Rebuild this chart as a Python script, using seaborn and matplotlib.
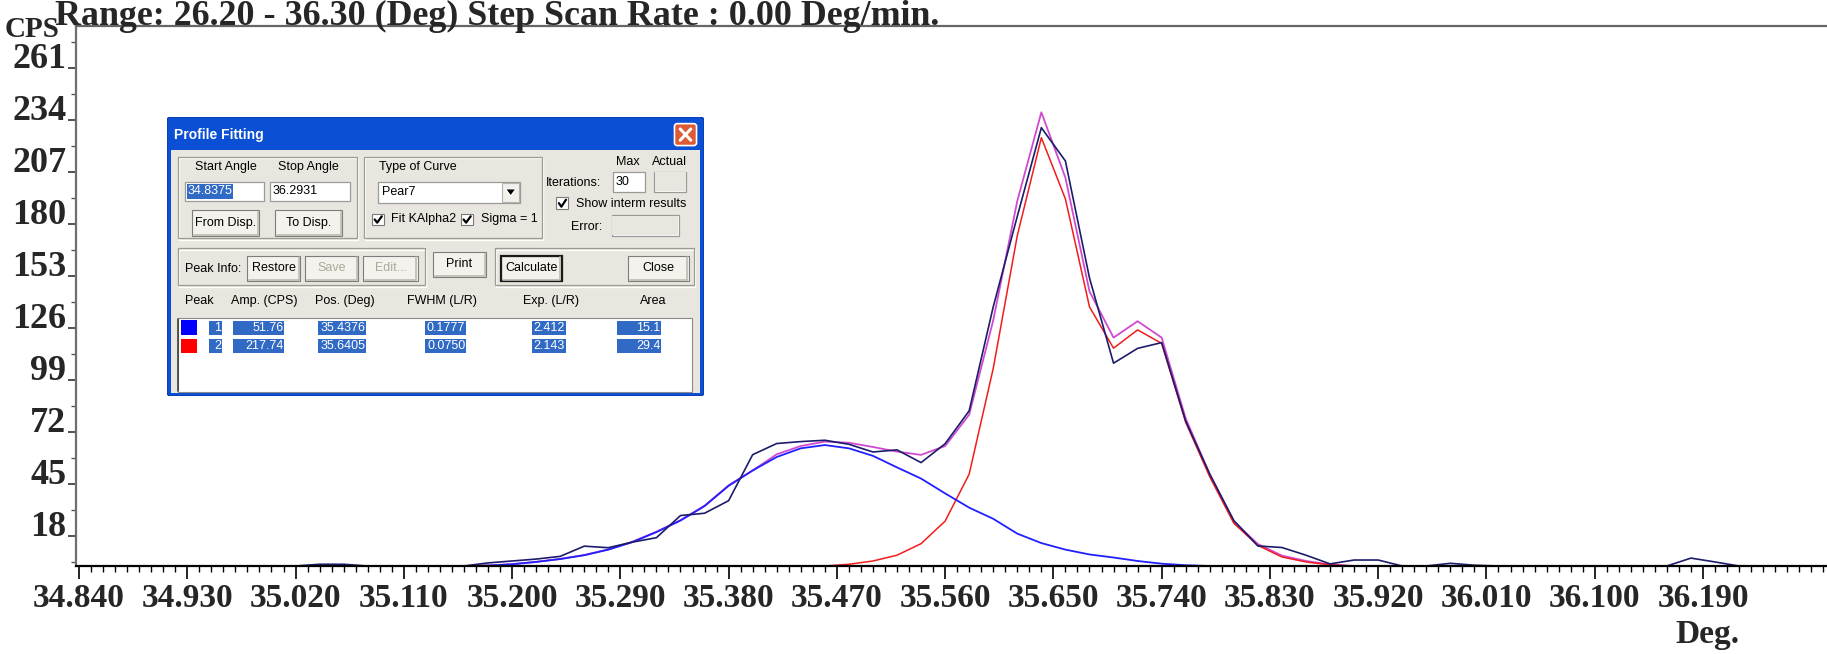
import numpy as np
import matplotlib
matplotlib.use("Agg")
import matplotlib.pyplot as plt
import seaborn as sns
from matplotlib.patches import Rectangle, FancyBboxPatch, Polygon
from matplotlib.ticker import FixedLocator, MultipleLocator
from matplotlib.colors import LinearSegmentedColormap

raw_angle = [34.84, 35.02, 35.04, 35.06, 35.08, 35.16, 35.18, 35.20, 35.22, 35.24,
             35.26, 35.28, 35.30, 35.32, 35.34, 35.36, 35.38, 35.40, 35.42, 35.44,
             35.46, 35.48, 35.50, 35.52, 35.54, 35.56, 35.58, 35.60, 35.62, 35.64,
             35.66, 35.68, 35.70, 35.72, 35.74, 35.76, 35.78, 35.80, 35.82, 35.84,
             35.86, 35.88, 35.90, 35.92, 35.94, 35.96, 35.98, 36.00, 36.02, 36.16,
             36.18, 36.20, 36.22, 36.28]
raw_cps = [2.4, 2.4, 3.3, 3.3, 2.4, 2.4, 4.0, 5.0, 6.0, 7.4,
           12.7, 11.9, 14.8, 17.1, 28.6, 29.8, 36.3, 60.2, 66.0, 67.0,
           67.7, 65.6, 61.6, 62.7, 56.1, 65.9, 83.0, 137.0, 184.0, 230.0,
           212.7, 152.0, 107.7, 115.4, 118.4, 77.6, 50.1, 26.0, 12.8, 12.0,
           8.0, 3.5, 5.5, 5.5, 2.4, 2.4, 3.8, 2.8, 2.4, 2.4,
           6.5, 4.5, 2.4, 2.4]

# fitted peak 1 (blue)
fit1_angle = [35.16, 35.18, 35.20, 35.22, 35.24, 35.26, 35.28, 35.30, 35.32, 35.34,
              35.36, 35.38, 35.40, 35.42, 35.44, 35.46, 35.48, 35.50, 35.52, 35.54,
              35.56, 35.58, 35.60, 35.62, 35.64, 35.66, 35.68, 35.70, 35.72, 35.74,
              35.76, 35.78]
fit1_cps = [2.4, 2.6, 3.3, 4.5, 6.0, 8.0, 10.9, 14.8, 20.0, 26.0,
            33.5, 44.0, 52.0, 59.0, 63.5, 65.2, 63.5, 59.6, 53.6, 47.8,
            40.1, 32.7, 26.9, 19.2, 14.3, 10.9, 8.4, 6.8, 5.0, 3.6,
            2.8, 2.4]

# fitted peak 2 (red)
fit2_angle = [35.46, 35.48, 35.50, 35.52, 35.54, 35.56, 35.58, 35.60, 35.62, 35.64,
              35.66, 35.68, 35.70, 35.72, 35.74, 35.76, 35.78, 35.80, 35.82, 35.84,
              35.86, 35.88, 35.90]
fit2_cps = [2.4, 3.3, 5.0, 8.0, 14.0, 25.7, 50.1, 105.0, 174.0, 224.8,
            193.0, 137.0, 115.5, 125.0, 118.0, 77.0, 48.7, 24.6, 13.1, 7.1,
            4.5, 3.0, 2.4]

# total fit (magenta)
sum_angle = [35.16, 35.18, 35.20, 35.22, 35.24, 35.26, 35.28, 35.30, 35.32, 35.34,
             35.36, 35.38, 35.40, 35.42, 35.44, 35.46, 35.48, 35.50, 35.52, 35.54,
             35.56, 35.58, 35.60, 35.62, 35.64, 35.66, 35.68, 35.70, 35.72, 35.74,
             35.76, 35.78, 35.80, 35.82, 35.84, 35.86, 35.88, 35.90]
sum_cps = [2.4, 2.7, 3.4, 4.6, 6.1, 8.1, 11.0, 15.0, 20.2, 26.2,
           33.7, 44.3, 52.0, 60.4, 64.7, 67.0, 66.4, 64.2, 61.8, 60.1,
           64.7, 81.0, 130.0, 192.0, 238.0, 204.0, 145.0, 121.0, 129.5, 121.0,
           79.0, 50.0, 25.5, 13.8, 7.8, 5.0, 3.2, 2.4]

xtick_values = [34.84, 34.93, 35.02, 35.11, 35.20, 35.29, 35.38, 35.47,
                35.56, 35.65, 35.74, 35.83, 35.92, 36.01, 36.10, 36.19]
xtick_labels = ["34.840", "34.930", "35.020", "35.110", "35.200", "35.290",
                "35.380", "35.470", "35.560", "35.650", "35.740", "35.830",
                "35.920", "36.010", "36.100", "36.190"]
ytick_values = [18, 45, 72, 99, 126, 153, 180, 207, 234, 261]

# dialog contents
start_angle = "34.8375"
stop_angle = "36.2931"
peak_ids = ["1", "2"]
peak_amp = ["51.76", "217.74"]
peak_pos = ["35.4376", "35.6405"]
peak_fwhm = ["0.1777", "0.0750"]
peak_exp = ["2.412", "2.143"]
peak_area = ["15.1", "29.4"]
peak_colors = ["#0000ff", "#ff0000"]

sns.set_style("white")
plt.rcParams["font.family"] = ["Liberation Serif", "DejaVu Serif"]

fig = plt.figure(figsize=(18.27, 6.54), dpi=100)
ax = fig.add_axes([76 / 1827, 88 / 654, 1751 / 1827, 540 / 654])

sns.lineplot(x=sum_angle, y=sum_cps, ax=ax, color="#d04ad0", linewidth=1.3)
sns.lineplot(x=fit2_angle, y=fit2_cps, ax=ax, color="#f21c1c", linewidth=1.1)
sns.lineplot(x=fit1_angle, y=fit1_cps, ax=ax, color="#2020ff", linewidth=1.3)
sns.lineplot(x=raw_angle, y=raw_cps, ax=ax, color="#1c1c6c", linewidth=1.2)

ax.set_xlim(float(start_angle), float(stop_angle))
ax.set_ylim(2.4, 282.8)
ax.set_xlabel("")
ax.set_ylabel("")

ax.spines["right"].set_visible(False)
ax.spines["left"].set_color("#6e6e6e")
ax.spines["top"].set_color("#666666")
ax.spines["bottom"].set_color("black")
for s in ["left", "top", "bottom"]:
    ax.spines[s].set_linewidth(1.6)

ax.xaxis.set_major_locator(FixedLocator(xtick_values))
ax.set_xticklabels(xtick_labels, fontweight="bold")
ax.xaxis.set_minor_locator(MultipleLocator(0.01))
ax.tick_params(axis="x", which="major", direction="out", length=9, width=1.2,
               color="black", pad=3, labelsize=24, bottom=True)
ax.tick_params(axis="x", which="minor", direction="out", length=4.5, width=1.0,
               color="black", bottom=True)

ax.yaxis.set_major_locator(FixedLocator(ytick_values))
ax.set_yticklabels([str(v) for v in ytick_values], fontweight="bold", va="baseline")
ax.yaxis.set_minor_locator(FixedLocator(np.arange(4.5, 280, 27)))
ax.tick_params(axis="y", which="major", direction="out", length=6, width=1.2,
               color="#333333", pad=1, labelsize=26, left=True)
ax.tick_params(axis="y", which="minor", direction="out", length=3.5, width=1.0,
               color="#555555", left=True)

fig.text(5 / 1827, (654 - 37) / 654, "CPS", ha="left", va="baseline",
         fontsize=21, fontweight="bold")
fig.text(55 / 1827, (654 - 25) / 654,
         "Range: 26.20 - 36.30 (Deg) Step Scan Rate : 0.00 Deg/min.",
         ha="left", va="baseline", fontsize=25.8, fontweight="bold")
fig.text(1707 / 1827, 19 / 654, "Deg.", ha="center", va="center",
         fontsize=24, fontweight="bold")

# ---- Profile Fitting dialog ----
axd = fig.add_axes([167 / 1827, (654 - 396) / 654, 537 / 1827, 279 / 654])
axd.set_xlim(0, 1510)
axd.set_ylim(840, 0)
axd.axis("off")
ui = dict(family=["Liberation Sans", "DejaVu Sans"], fontsize=9)


def box(x0, y0, x1, y1, **kw):
    axd.add_patch(Rectangle((x0, y0), x1 - x0, y1 - y0, **kw))


def label(x, y, s, ha="left", color="black", **kw):
    axd.text(x, y, s, ha=ha, va="center", color=color, **ui, **kw)


def button(x0, y0, x1, y1, s, enabled=True, default=False):
    box(x0, y0, x1, y1, fc="#f3f2ec", ec="#7d7d7d", lw=0.8)
    axd.plot([x0 + 6, x1 - 4, x1 - 4], [y1 - 4, y1 - 4, y0 + 6], color="#bdbbb0", lw=1.2)
    if default:
        box(x0, y0, x1, y1, fc="none", ec="#1a1a1a", lw=1.6)
    label((x0 + x1) / 2, (y0 + y1) / 2, s, ha="center",
          color="black" if enabled else "#aca899")


def group(x0, y0, x1, y1):
    box(x0 + 3, y0 + 4, x1 + 3, y1 + 4, fc="none", ec="white", lw=0.9)
    box(x0, y0, x1, y1, fc="none", ec="#9d9b90", lw=0.9)


def field(x0, y0, x1, y1):
    box(x0, y0, x1, y1, fc="white", ec="#9a9a9a", lw=0.9)


def checkbox(x0, y0, x1, y1):
    box(x0, y0, x1, y1, fc="white", ec="#7a7a7a", lw=0.8)
    axd.plot([x0 + 7, x0 + 14, x1 - 6], [(y0 + y1) / 2, y1 - 7, y0 + 7],
             color="black", lw=1.6)


# frame and title bar
axd.add_patch(FancyBboxPatch((0, 0), 1510, 840, boxstyle="round,pad=0,rounding_size=12",
                             fc="#0b4fd4", ec="#0a3aa8", lw=1))
grad = np.linspace(0, 1, 50).reshape(-1, 1)
title_cmap = LinearSegmentedColormap.from_list("xp", ["#4a88f5", "#0d56dc", "#0a47c4"])
axd.imshow(grad, extent=[4, 1506, 100, 4], aspect="auto", cmap=title_cmap, zorder=0.5)
axd.set_xlim(0, 1510)
axd.set_ylim(840, 0)
axd.text(20, 55, "Profile Fitting", ha="left", va="center", color="white",
         fontweight="bold", family=["Liberation Sans", "DejaVu Sans"], fontsize=10)
axd.add_patch(FancyBboxPatch((1427, 20), 62, 66, boxstyle="round,pad=0,rounding_size=8",
                             fc="#dd5a34", ec="white", lw=1.2))
axd.plot([1443, 1473], [36, 70], color="white", lw=2.2)
axd.plot([1443, 1473], [70, 36], color="white", lw=2.2)
box(10, 100, 1500, 832, fc="#e8e6de", ec="none")

# angle group
group(30, 120, 533, 365)
label(165, 150, "Start Angle", ha="center")
label(398, 150, "Stop Angle", ha="center")
field(50, 195, 273, 252)
box(55, 201, 185, 246, fc="#316ac5", ec="none")
label(58, 224, start_angle, color="white")
field(290, 195, 515, 252)
label(298, 224, stop_angle)
button(70, 280, 260, 358, "From Disp.")
button(303, 280, 493, 358, "To Disp.")

# curve group
group(555, 120, 1055, 365)
label(595, 150, "Type of Curve")
field(593, 195, 993, 258)
label(605, 227, "Pear7")
box(943, 199, 990, 255, fc="#f1f0ea", ec="#b5b3a8", lw=0.8)
axd.add_patch(Polygon([[951, 216], [982, 216], [966.5, 238]], closed=True, fc="black"))
checkbox(577, 292, 610, 325)
label(630, 308, "Fit KAlpha2")
checkbox(827, 292, 860, 325)
label(883, 308, "Sigma = 1")

# iterations
label(1295, 135, "Max", ha="center")
label(1413, 135, "Actual", ha="center")
label(1222, 198, "Iterations:", ha="right")
field(1253, 165, 1345, 225)
label(1262, 196, "30")
field(1370, 165, 1460, 225)
box(1372, 167, 1458, 223, fc="#e8e6de", ec="none")
checkbox(1095, 242, 1128, 277)
label(1150, 263, "Show interm results")
label(1225, 330, "Error:", ha="right")
field(1250, 295, 1440, 357)
box(1252, 297, 1438, 355, fc="#e8e6de", ec="none")

# buttons
group(30, 395, 725, 507)
label(50, 457, "Peak Info:")
button(225, 417, 375, 495, "Restore")
button(388, 417, 538, 495, "Save", enabled=False)
button(552, 417, 705, 495, "Edit...", enabled=False)
button(747, 405, 898, 483, "Print")
group(922, 395, 1482, 507)
button(938, 417, 1110, 495, "Calculate", default=True)
button(1297, 417, 1467, 495, "Close")

# peak table
label(50, 555, "Peak")
label(273, 555, "Amp. (CPS)", ha="center")
label(500, 555, "Pos. (Deg)", ha="center")
label(772, 555, "FWHM (L/R)", ha="center")
label(1080, 555, "Exp. (L/R)", ha="center")
label(1368, 555, "Area", ha="center")
box(30, 605, 1477, 828, fc="white", ec="#8a8a8a", lw=0.8)
axd.plot([32, 32], [607, 826], color="#404040", lw=1.2)

cols = [(118, 155), (185, 330), (425, 560), (725, 842), (1025, 1122), (1265, 1390)]
row_y = [635, 690]
for i in range(len(peak_ids)):
    y = row_y[i]
    box(40, y - 23, 85, y + 22, fc=peak_colors[i], ec="none")
    cells = [peak_ids[i], peak_amp[i], peak_pos[i], peak_fwhm[i], peak_exp[i], peak_area[i]]
    for (c0, c1), s in zip(cols, cells):
        box(c0, y - 21, c1, y + 21, fc="#316ac5", ec="none")
        label(c1 - 3, y, s, ha="right", color="white")

fig.savefig("out.png", dpi=100)
